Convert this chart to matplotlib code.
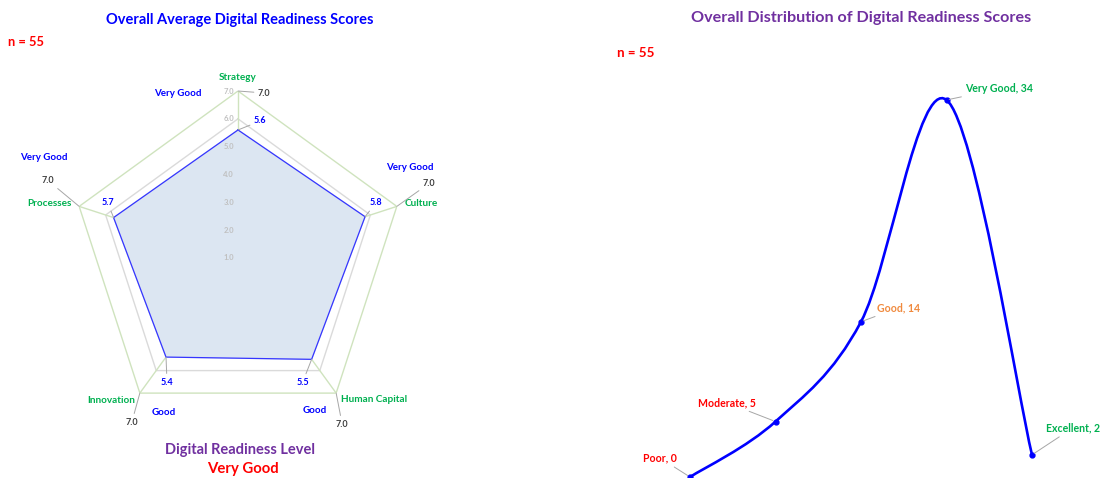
import numpy as np
import matplotlib
matplotlib.use("Agg")
import matplotlib.pyplot as plt
from matplotlib.path import Path
from matplotlib.patches import PathPatch

plt.rcParams['font.family'] = ['Lato', 'DejaVu Sans']
plt.rcParams['font.weight'] = 'bold'

# Donnees - radar
dimensions = ["Strategy", "Culture", "Human Capital", "Innovation", "Processes"]
scores = [5.6, 5.8, 5.5, 5.4, 5.7]
levels = ["Very Good", "Very Good", "Good", "Good", "Very Good"]
max_score = 7.0
radial_ticks = [1.0, 2.0, 3.0, 4.0, 5.0, 6.0, 7.0]
n_resp = 55
overall_level = "Very Good"

# Donnees - distribution
categories = ["Poor", "Moderate", "Good", "Very Good", "Excellent"]
counts = [0, 5, 14, 34, 2]
cat_colors = ["#FF0000", "#FF0000", "#F08A3E", "#00B050", "#00B050"]

BLUE = "#0000FF"
PURPLE = "#7030A0"
RED = "#FF0000"
GREEN = "#00B050"
DARK = "#404040"
LEADER = "#A6A6A6"

W, H = 1105, 478
fig = plt.figure(figsize=(W / 100, H / 100), dpi=100)

# ---------- radar ----------
cx, cy, rad = 238, 258, 167
ax = fig.add_axes([(cx - rad) / W, (H - cy - rad) / H, 2 * rad / W, 2 * rad / H],
                  projection="polar")
ax.set_theta_offset(np.pi / 2)
ax.set_theta_direction(-1)
ax.set_ylim(1, max_score)
ax.axis("off")

theta = np.linspace(0, 2 * np.pi, len(dimensions), endpoint=False)
theta_c = np.append(theta, theta[0])

# grille
ax.plot(theta_c, [max_score] * len(theta_c), color="#CFE3BE", lw=1.0)
ax.plot(theta_c, [6.0] * len(theta_c), color="#DADADA", lw=1.0)
for t in theta:
    ax.plot([t, t], [1, max_score], color="#CFE3BE", lw=1.0)

# serie
sc = np.append(scores, scores[0])
ax.fill(theta_c, sc, color="#DCE6F2", zorder=2)
ax.plot(theta_c, sc, color="#3535FF", lw=0.9, zorder=3)

# graduations
for v in radial_ticks:
    ax.annotate(f"{v:.1f}", xy=(0, v), xytext=(-4, 0), textcoords="offset pixels",
                ha="right", va="center", fontsize=5.5, color="#C0C0C0",
                annotation_clip=False, zorder=4)

lead = dict(arrowstyle="-", color=LEADER, lw=0.7, shrinkA=1, shrinkB=0)

# positions des etiquettes (offset pixels)
name_off = [(0, 14, "center"), (8, 3, "left"), (5, -6, "left"), (-5, -7, "right"), (-8, 3, "right")]
level_off = [(-60, -2), (13, 39), (-21, -17), (24, -19), (-35, 49)]
max_off = [(20, -2, "left"), (26, 23, "left"), (6, -31, "center"), (-8, -29, "center"), (-25, 26, "right")]
score_off = [(16, 9, "left"), (11, 14, "center"), (-9, -23, "center"), (1, -25, "center"), (-6, 15, "center")]

for i, t in enumerate(theta):
    dx, dy, ha = name_off[i]
    ax.annotate(dimensions[i], xy=(t, max_score), xytext=(dx, dy), textcoords="offset pixels",
                ha=ha, va="center", fontsize=7.2, color=GREEN, annotation_clip=False)
    dx, dy = level_off[i]
    ax.annotate(levels[i], xy=(t, max_score), xytext=(dx, dy), textcoords="offset pixels",
                ha="center", va="center", fontsize=7, color=BLUE, annotation_clip=False)
    dx, dy, ha = max_off[i]
    ax.annotate(f"{max_score:.1f}", xy=(t, max_score), xytext=(dx, dy), textcoords="offset pixels",
                ha=ha, va="center", fontsize=6.5, color=DARK, annotation_clip=False,
                arrowprops=lead)
    dx, dy, ha = score_off[i]
    ax.annotate(f"{scores[i]:.1f}", xy=(t, scores[i]), xytext=(dx, dy), textcoords="offset pixels",
                ha=ha, va="center", fontsize=6.5, color=BLUE, annotation_clip=False,
                arrowprops=lead, zorder=5)

fig.text(240 / W, 1 - 20 / H, "Overall Average Digital Readiness Scores", ha="center", va="center",
         fontsize=10.5, color=BLUE)
fig.text(8 / W, 1 - 42 / H, f"n = {n_resp}", ha="left", va="center", fontsize=9.3, color=RED)
fig.text(240 / W, 1 - 450 / H, "Digital Readiness Level", ha="center", va="center",
         fontsize=10.5, color=PURPLE)
fig.text(243 / W, 1 - 469 / H, overall_level, ha="center", va="center", fontsize=10.7, color=RED)

# ---------- distribution ----------
ax2 = fig.add_axes([605 / W, 0, 500 / W, 1])
ax2.axis("off")
x_unit = 85.5
y_unit = 11.09
xmin = -85 / x_unit
ax2.set_xlim(xmin, xmin + 500 / x_unit)
ymin = -1 / y_unit
ax2.set_ylim(ymin, ymin + H / y_unit)

xs = np.arange(len(categories))
pts = np.column_stack([xs, counts]).astype(float)
# courbe lissee (bezier facon Excel)
verts = [pts[0]]
codes = [Path.MOVETO]
for i in range(len(pts) - 1):
    p0 = pts[max(i - 1, 0)]
    p1 = pts[i]
    p2 = pts[i + 1]
    p3 = pts[min(i + 2, len(pts) - 1)]
    verts += [p1 + (p2 - p0) / 6, p2 - (p3 - p1) / 6, p2]
    codes += [Path.CURVE4] * 3
ax2.add_patch(PathPatch(Path(verts, codes), fill=False, edgecolor=BLUE, lw=1.9, clip_on=False))
ax2.plot(xs, counts, "o", color=BLUE, ms=3.5, clip_on=False)

dist_off = [(-13, 19, "right"), (-20, 19, "right"), (16, 14, "left"), (19, 11, "left"), (14, 27, "left")]
for i, c in enumerate(categories):
    dx, dy, ha = dist_off[i]
    ax2.annotate(f"{c}, {counts[i]}", xy=(xs[i], counts[i]), xytext=(dx, dy),
                 textcoords="offset pixels", ha=ha, va="center", fontsize=7.6,
                 color=cat_colors[i], annotation_clip=False,
                 arrowprops=dict(arrowstyle="-", color=LEADER, lw=0.7, shrinkA=1, shrinkB=2))

fig.text(861 / W, 1 - 18 / H, "Overall Distribution of Digital Readiness Scores", ha="center",
         va="center", fontsize=11.6, color=PURPLE)
fig.text(617 / W, 1 - 53 / H, f"n = {n_resp}", ha="left", va="center", fontsize=9.6, color=RED)

fig.savefig("out.png", dpi=100)
